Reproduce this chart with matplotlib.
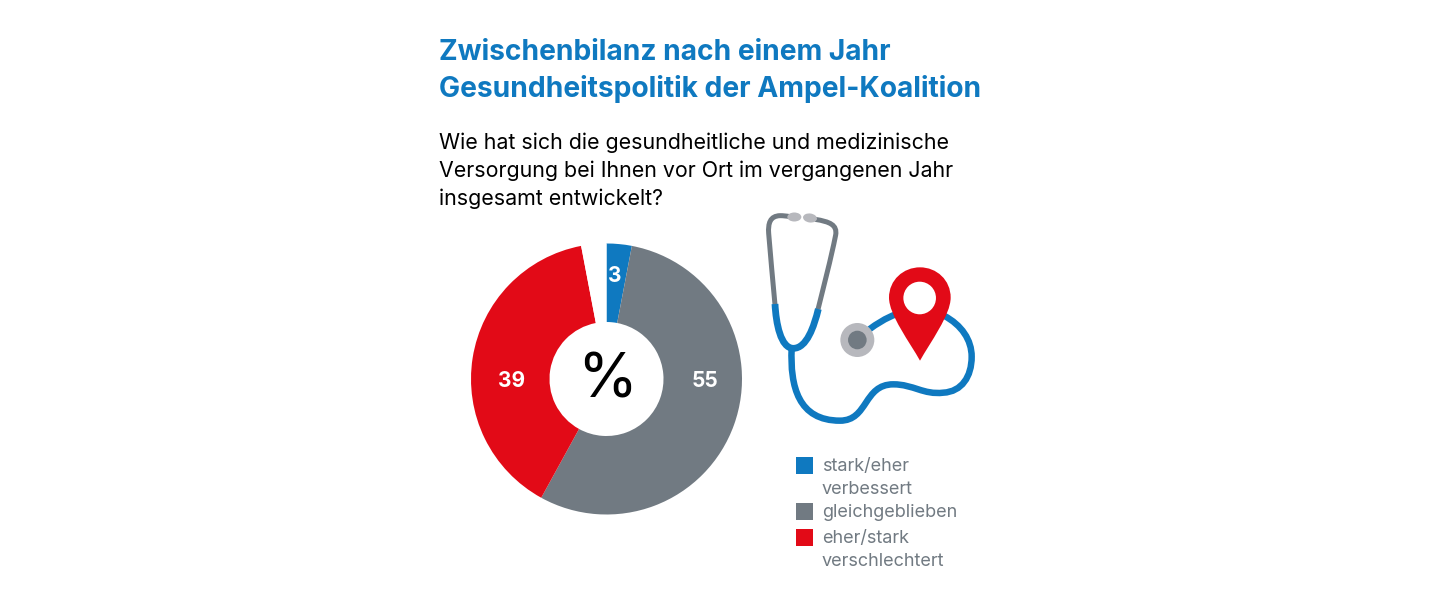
# Zwischenbilanz Gesundheitspolitik: Donut mit Stethoskop-Illustration

import matplotlib
matplotlib.use('Agg')
import matplotlib.pyplot as plt
from matplotlib.patches import Circle, Ellipse, PathPatch, Rectangle
from matplotlib.path import Path

W, H = 1440, 604

TITLE_LINES = ['Zwischenbilanz nach einem Jahr',
               'Gesundheitspolitik der Ampel-Koalition']
QUESTION_LINES = ['Wie hat sich die gesundheitliche und medizinische',
                  'Versorgung bei Ihnen vor Ort im vergangenen Jahr',
                  'insgesamt entwickelt?']
CATEGORIES = ['stark/eher\nverbessert', 'gleichgeblieben',
              'eher/stark\nverschlechtert']
VALUES = [3, 55, 39]
REST = 100 - sum(VALUES)

BLUE = '#0f79c0'
GRAY = '#717a82'
RED = '#e20a17'
LIGHT = '#b7b8bd'
FONT = 'Inter'


def curve(*pts):
    """Bezier-Pfad aus Zoom-Koordinaten: Startpunkt, dann je 3 Punkte."""
    pts = [(740 + x/3, 200 + y/3) for x, y in pts]
    return Path(pts, [Path.MOVETO] + [Path.CURVE4]*(len(pts) - 1))


def line(ax, path, color, px):
    ax.add_patch(PathPatch(path, fc='none', ec=color, lw=px*.72,
                           capstyle='butt'))


def illustration(ax):
    # Schlauch
    line(ax, curve((155, 445), (150, 560), (175, 662), (300, 662),
                   (385, 662), (370, 553), (460, 553),
                   (520, 553), (550, 585), (610, 578),
                   (665, 575), (695, 530), (695, 470),
                   (695, 420), (665, 375), (612, 347)), BLUE, 6.5)
    line(ax, curve((388, 388), (410, 372), (435, 355), (470, 342)), BLUE, 6.5)
    # Buegel
    line(ax, curve((105, 314), (98, 240), (92, 170), (86, 100),
                   (84, 70), (90, 48), (120, 47),
                   (130, 47), (140, 48), (150, 50)), GRAY, 5)
    line(ax, curve((234, 328), (252, 255), (272, 180), (287, 105),
                   (292, 75), (270, 65), (225, 58)), GRAY, 5)
    line(ax, curve((105, 312), (108, 370), (122, 445), (160, 445),
                   (200, 445), (222, 380), (235, 327)), BLUE, 6.8)
    # Ohrstuecke
    ax.add_patch(Ellipse((740 + 163/3, 200 + 51/3), 14, 9, fc=LIGHT, ec='none'))
    ax.add_patch(Ellipse((740 + 210/3, 200 + 54/3), 14, 9, angle=8, fc=LIGHT,
                         ec='none'))
    # Bruststueck
    ax.add_patch(Circle((740 + 352/3, 200 + 420/3), 17, fc=LIGHT, ec='none'))
    ax.add_patch(Circle((740 + 352/3, 200 + 420/3), 9.3, fc=GRAY, ec='none'))
    # Standort-Pin
    pin = curve((540, 482), (510, 428), (447, 345), (447, 293),
                (447, 240), (490, 202), (540, 202),
                (590, 202), (632, 240), (632, 293),
                (632, 345), (570, 428), (540, 482))
    ax.add_patch(PathPatch(pin, fc=RED, ec='none'))
    ax.add_patch(Circle((740 + 539/3, 200 + 294/3), 16.3, fc='white', ec='none'))


def main() -> None:
    fig = plt.figure(figsize=(W/100, H/100), dpi=100)

    # Ebene in Pixelkoordinaten
    bg = fig.add_axes([0, 0, 1, 1])
    bg.set_xlim(0, W)
    bg.set_ylim(H, 0)
    bg.axis('off')

    for txt, y in zip(TITLE_LINES, [60, 97]):
        bg.text(439, y, txt, color=BLUE, size=20.3, weight='bold', family=FONT,
                va='baseline')
    for txt, y in zip(QUESTION_LINES, [149, 177, 205]):
        bg.text(439, y, txt, color='black', size=15.4, family=FONT,
                va='baseline')

    illustration(bg)

    # Legende
    swatches = [457, 503, 529]
    for cat, col, y in zip(CATEGORIES, [BLUE, GRAY, RED], swatches):
        bg.add_patch(Rectangle((796, y), 17, 17, fc=col, ec='none'))
        for i, part in enumerate(cat.split('\n')):
            bg.text(822, y + 14 + i*23.5, part, color=GRAY, size=13,
                    family=FONT, va='baseline')

    # Donut
    cx, cy, r = 606.5, 379, 135.5
    ax = fig.add_axes([(cx - r)/W, 1 - (cy + r)/H, 2*r/W, 2*r/H])
    ax.pie(VALUES + [REST], colors=[BLUE, GRAY, RED, 'white'], startangle=90,
           counterclock=False, radius=1,
           wedgeprops={'width': 1 - 57/135.5, 'linewidth': 0})
    ax.set_xlim(-1, 1)
    ax.set_ylim(-1, 1)

    label_pos = [(615, 276), (705, 381), (511.5, 381)]
    for val, (x, y) in zip(VALUES, label_pos):
        bg.text(x, y, str(val), color='white', size=15, weight='bold',
                family=FONT, ha='center', va='center', zorder=5)
    ax.set_zorder(0)
    bg.set_zorder(1)
    bg.patch.set_alpha(0)
    bg.text(607, 381, '%', color='black', size=44, family=FONT, ha='center',
            va='center')

    fig.savefig('out.png', dpi=100)


if __name__ == '__main__':
    main()
